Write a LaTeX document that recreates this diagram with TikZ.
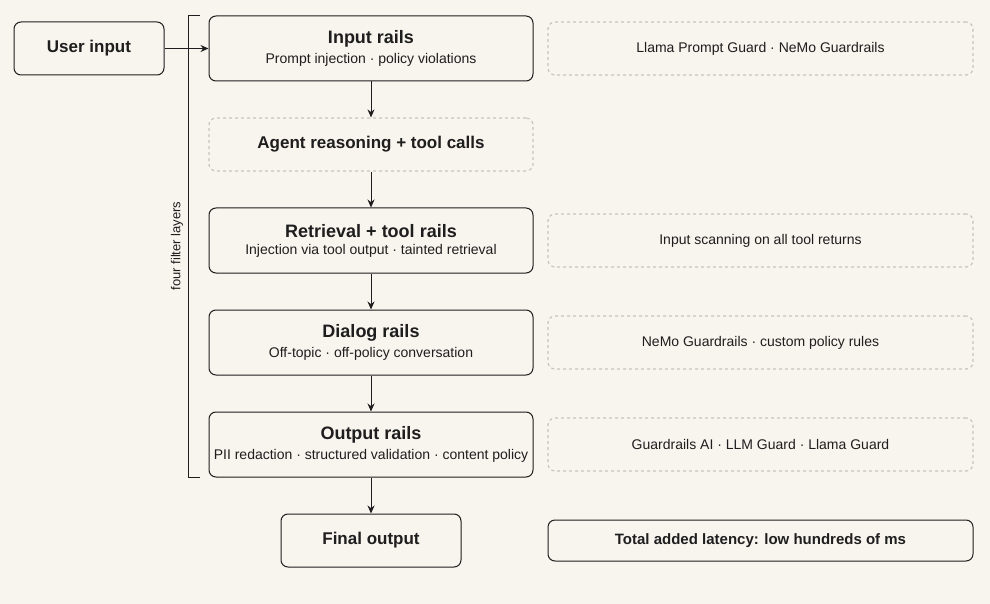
\documentclass[tikz,border=0pt]{standalone}
\usepackage{fontspec}
\setmainfont{Liberation Sans}
\usetikzlibrary{arrows.meta}
\definecolor{bg}{HTML}{F8F4EE}
\definecolor{ink}{HTML}{1E1E1E}
\definecolor{dash}{HTML}{C8C4C0}
\begin{document}
\begin{tikzpicture}[x=1pt,y=-1pt,
  rail/.style={draw=ink,line width=1pt,rounded corners=7pt,fill=bg,minimum width=324pt,minimum height=65pt,align=center},
  dbox/.style={draw=dash,dashed,line width=1.2pt,rounded corners=7pt,minimum width=425pt,minimum height=53pt,font=\fontsize{14}{16}\selectfont,text=ink},
  sbox/.style={draw=ink,line width=1pt,rounded corners=7pt,fill=bg,minimum height=53pt,font=\fontsize{17}{20}\selectfont\bfseries,text=ink},
  arr/.style={-{Stealth[length=8pt,width=7pt]},draw=ink,line width=1pt}]
\fill[bg] (0,0) rectangle (990,604);
\newcommand{\rt}[2]{{\fontsize{18}{22}\selectfont\bfseries #1}\\[5pt]{\fontsize{14}{17}\selectfont #2}}
\node[sbox,minimum width=150pt] (user) at (89,48.5) {User input};
\node[rail,text=ink] (inr) at (371,48.5) {\rt{Input rails}{Prompt injection · policy violations}};
\node[dbox] (d1) at (760.5,48.5) {Llama Prompt Guard · NeMo Guardrails};
\node[dbox,minimum width=324pt,font=\fontsize{17}{20}\selectfont\bfseries] (agent) at (371,144.5) {Agent reasoning + tool calls};
\node[rail,text=ink] (ret) at (371,240.5) {\rt{Retrieval + tool rails}{Injection via tool output · tainted retrieval}};
\node[dbox] (d2) at (760.5,240.5) {Input scanning on all tool returns};
\node[rail,text=ink] (dia) at (371,342.5) {\rt{Dialog rails}{Off-topic · off-policy conversation}};
\node[dbox] (d3) at (760.5,342.5) {NeMo Guardrails · custom policy rules};
\node[rail,text=ink] (out) at (371,444.5) {\rt{Output rails}{PII redaction · structured validation · content policy}};
\node[dbox] (d4) at (760.5,444.5) {Guardrails AI · LLM Guard · Llama Guard};
\node[sbox,minimum width=180pt] (fin) at (371,540.5) {Final output};
\node[sbox,minimum width=425pt,minimum height=41pt,font=\fontsize{15}{18}\selectfont\bfseries] (lat) at (760.5,540.5) {Total added latency: low hundreds of ms};
\draw[arr] (user) -- (inr);
\draw[arr] (inr) -- (agent);
\draw[arr] (agent) -- (ret);
\draw[arr] (ret) -- (dia);
\draw[arr] (dia) -- (out);
\draw[arr] (out) -- (fin);
\coordinate (bt) at (200,16);
\coordinate (bb) at (200,477);
\draw[ink,line width=1pt] (bt) -- (188,16) -- (188,477) -- (bb);
\node[rotate=90,text=ink,font=\fontsize{13}{15}\selectfont] (lbl) at (177,246) {four filter layers};
\end{tikzpicture}
\end{document}
